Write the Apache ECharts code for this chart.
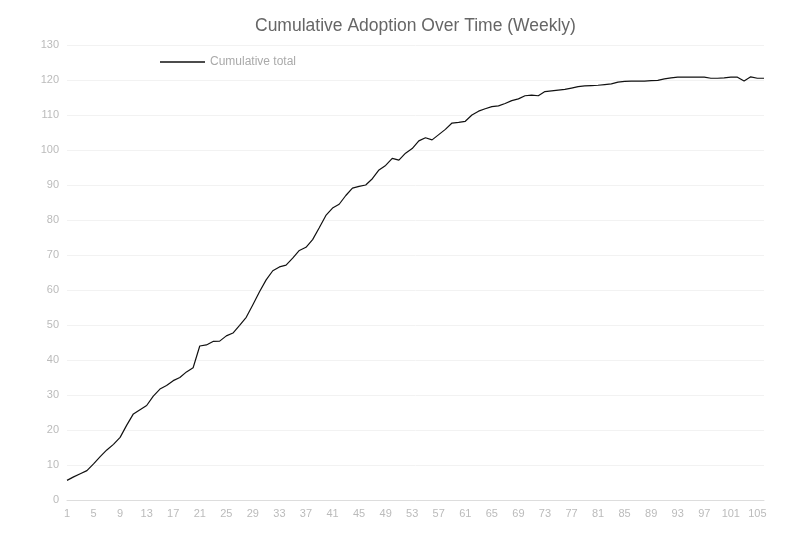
<!DOCTYPE html>
<html>
<head>
<meta charset="utf-8">
<script src="https://cdn.jsdelivr.net/npm/echarts@6/dist/echarts.min.js"></script>
<style>html,body{margin:0;padding:0;background:#fff;}#chart{width:800px;height:560px;}</style>
</head>
<body>
<div id="chart"></div>
<script>
var titleText = 'Cumulative Adoption Over Time (Weekly)';
var seriesName = 'Cumulative total';
var categories = ['1','2','3','4','5','6','7','8','9','10','11','12','13','14','15','16','17','18','19','20',
'21','22','23','24','25','26','27','28','29','30','31','32','33','34','35','36','37','38','39','40',
'41','42','43','44','45','46','47','48','49','50','51','52','53','54','55','56','57','58','59','60',
'61','62','63','64','65','66','67','68','69','70','71','72','73','74','75','76','77','78','79','80',
'81','82','83','84','85','86','87','88','89','90','91','92','93','94','95','96','97','98','99','100',
'101','102','103','104','105','106'];
var values = [5.6,6.6,7.5,8.4,10.3,12.4,14.3,15.9,17.9,21.4,
24.6,25.8,27.0,29.7,31.7,32.7,34.1,35.0,36.6,37.8,
44.0,44.3,45.3,45.4,46.9,47.7,49.9,52.2,55.8,59.5,
62.9,65.5,66.6,67.1,69.1,71.3,72.2,74.4,77.8,81.3,
83.4,84.5,87.0,89.1,89.6,90.0,91.8,94.3,95.6,97.6,
97.1,99.1,100.4,102.6,103.5,102.9,104.4,105.9,107.7,107.9,
108.2,110.0,111.1,111.8,112.4,112.6,113.3,114.1,114.6,115.5,
115.7,115.5,116.7,116.9,117.1,117.3,117.7,118.1,118.3,118.4,
118.5,118.7,118.9,119.4,119.6,119.7,119.7,119.7,119.8,119.9,
120.3,120.6,120.8,120.8,120.8,120.8,120.8,120.5,120.5,120.6,
120.8,120.8,119.7,120.9,120.5,120.5];
var yMin = 0, yMax = 130, yInterval = 10;

var chart = echarts.init(document.getElementById('chart'), null, {renderer: 'canvas'});
chart.setOption({
  backgroundColor: '#ffffff',
  animation: false,
  title: {
    text: titleText,
    left: 250,
    top: 12,
    textStyle: {fontSize: 17.5, fontWeight: 'normal', color: '#666', fontFamily: 'sans-serif'}
  },
  legend: {
    data: [{name: seriesName, icon: 'rect'}],
    left: 160,
    top: 56,
    padding: 0,
    itemWidth: 45,
    itemHeight: 1.5,
    textStyle: {color: '#aaa', fontSize: 12}
  },
  grid: {left: 67, right: 36, top: 45, bottom: 60, containLabel: false, outerBoundsMode: 'none'},
  xAxis: {
    type: 'category',
    data: categories,
    boundaryGap: false,
    axisLine: {lineStyle: {color: '#ddd'}},
    axisTick: {show: false},
    axisLabel: {color: '#bbb', fontSize: 11}
  },
  yAxis: {
    type: 'value',
    min: yMin,
    max: yMax,
    interval: yInterval,
    axisLine: {show: false},
    axisTick: {show: false},
    axisLabel: {color: '#bbb', fontSize: 11},
    splitLine: {lineStyle: {color: '#f2f2f2'}}
  },
  series: [{
    name: seriesName,
    type: 'line',
    data: values,
    showSymbol: false,
    symbol: 'none',
    lineStyle: {color: '#111', width: 1.2},
    itemStyle: {color: '#111'}
  }]
});
</script>
</body>
</html>
